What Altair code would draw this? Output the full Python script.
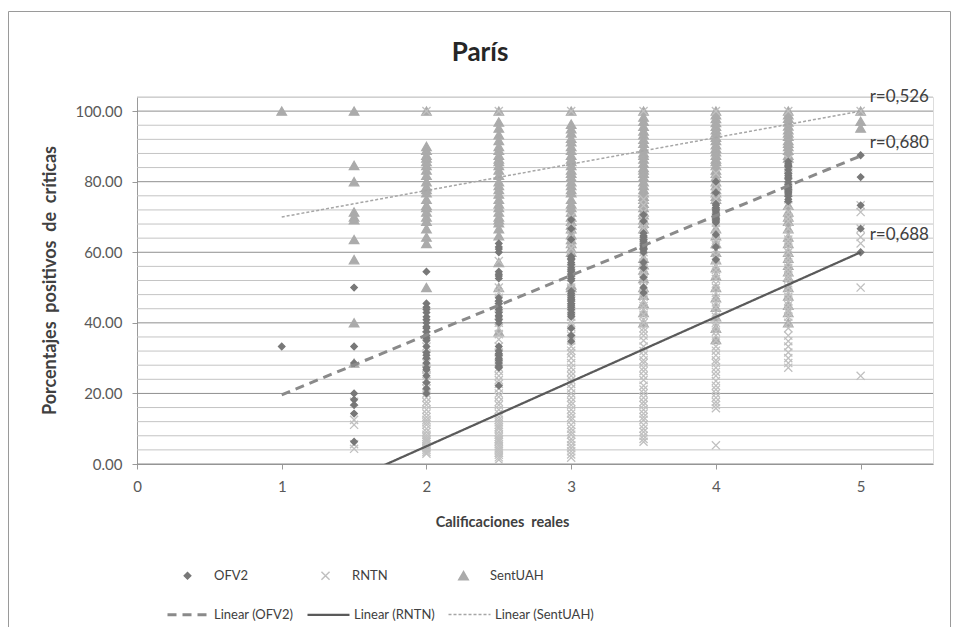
import altair as alt
import pandas as pd

FONT = "Lato"

# ---------------- data ----------------
series_names = ["OFV2", "RNTN", "SentUAH"]

ofv2_values = {
    1: [33.3],
    1.5: [50, 33.3, 28.6, 20, 18.2, 16.7, 14.3, 6.3],
    2: [54.5, 45.5, 44.4, 43.8, 42.9, 41.7, 40.9, 40, 38.9, 38.5, 37.5, 36.4, 35.7, 35,
        33.3, 31.6, 30.8, 30, 28.6, 27.3, 26.7, 25, 23.1, 21.4, 20],
    2.5: [62.5, 61.5, 60.9, 60, 54.5, 53.8, 53.3, 52.6, 47.1, 46.2, 45.5, 44.4, 43.8, 42.9,
          42.1, 41.7, 40.9, 40, 33.3, 32, 31.3, 30.8, 30, 29.4, 28.6, 27.8, 27.3, 22.2],
    3: [69.2, 66.7, 63.6, 58.8, 58.3, 57.9, 57.1, 56.5, 55.6, 55, 54.5, 53.8, 53.3, 52.6, 52,
        49, 48.4, 47.8, 47.1, 46.7, 46.2, 45.5, 45, 44.4, 43.8, 42.9, 42.3, 41.7, 38.5, 36.4, 34.8],
    3.5: [70.6, 68.8, 65.4, 64.7, 64.3, 63.6, 63.2, 62.5, 61.9, 61.5, 61.1, 60.7, 60,
          57.1, 55.6, 52.9, 50, 48.5],
    4: [80, 76.9, 73.7, 73.3, 72.7, 72.2, 71.9, 71.4, 70.8, 70.6, 70, 69.6, 69.2, 68.8, 68.4,
        65, 61.5, 57.9],
    4.5: [85.7, 85, 84.6, 84.2, 83.3, 82.4, 81.8, 81.3, 80.8, 80, 79.2, 78.6, 78.3, 77.8, 77.3,
          76.9, 76.5, 75.9, 75, 74.4],
    5: [87.5, 81.3, 73.3, 66.7, 60],
}

rntn_values = {
    1.5: [17.6, 12.5, 11.1, 5.6, 4.3],
    2: [100, 36.4, 33.3, 30.8, 28.6, 27.3, 26.7, 25, 23.5, 22.2, 21.4, 20, 18.8, 17.6, 16.7,
        15.4, 14.3, 13.3, 12.5, 11.8, 11.1, 10, 9.1, 8.3, 7.7, 7.1, 6.7, 6.3, 5.6, 5, 4.5, 4,
        3.4, 2.9],
    2.5: [100, 57.5, 50, 48.6, 47.1, 44.4, 42.1, 40, 38.5, 36.8, 35.3, 33.3, 31.6, 30, 28.6,
          27.3, 26.3, 25, 23.8, 22.7, 21.4, 20, 19, 17.6, 16.7, 15.4, 14.3, 13.3, 12.5, 11.8,
          11.1, 10.5, 10, 9.1, 8.3, 7.7, 7.1, 6.7, 6.3, 5.6, 5, 4.3, 3.8, 3.2, 2.6, 1.9, 1.2],
    3: [100, 70, 68.2, 66.7, 64.3, 62.5, 61.1, 59.1, 57.1, 55.6, 54.2, 52.9, 51.5, 50, 48.4,
        47.1, 45.5, 44.4, 42.9, 41.7, 40, 38.9, 37.5, 36.4, 35, 33.3, 32.1, 31.3, 30, 28.6,
        27.3, 26.1, 25, 23.8, 22.7, 21.4, 20, 18.8, 17.6, 16.7, 15.4, 14.3, 13.3, 12.5, 11.1,
        10, 9.1, 8.3, 7.1, 6.3, 5.3, 4.5, 3.6, 2.7, 1.8],
    3.5: [100, 75, 73.3, 71.4, 69.2, 67.9, 66.7, 64.7, 63.2, 61.9, 60, 58.8, 57.1, 55.6, 54.5,
          53.3, 52, 50, 48.6, 47.4, 46.2, 44.8, 43.8, 42.3, 40.9, 40, 38.5, 37.5, 36.4, 35,
          33.3, 32, 30.8, 29.4, 28.6, 27.3, 26.3, 25, 23.8, 22.2, 21.1, 20, 18.8, 17.6, 16.7,
          15.4, 14.3, 13.3, 12.5, 11.1, 10, 9.1, 8, 7.1, 6.3],
    4: [100, 82.4, 80, 78.6, 76.9, 75, 73.3, 71.4, 70, 68.4, 66.7, 65, 63.6, 62.1, 60.7, 59.1,
        57.9, 56.3, 55, 53.8, 52.4, 51.1, 50, 48.5, 47.1, 45.8, 44.4, 42.9, 41.7, 40, 38.9,
        37.5, 36.4, 35, 33.3, 32.1, 30.8, 29.4, 28.6, 27.3, 26.1, 25, 23.5, 22.2, 21.1, 20,
        18.8, 17.6, 16.7, 15.8, 5.3],
    4.5: [100, 86.4, 84.6, 83.3, 81.8, 80, 78.6, 76.9, 75, 73.3, 71.4, 70, 68.8, 66.7, 65,
          63.6, 62.5, 61.1, 60, 58.3, 57.1, 55.6, 54.5, 53.3, 52.4, 51.2, 50, 48.6, 47.4, 46.2,
          45, 43.8, 42.9, 41.7, 40, 38.5, 36.4, 34.8, 33.3, 31.6, 30, 28.6, 27.3],
    5: [100, 73.3, 71.4, 66.7, 64.3, 62.5, 50, 25],
}

sentuah_values = {
    1: [100],
    1.5: [100, 84.6, 80, 71.4, 70, 69.2, 63.6, 57.9, 40, 28.6],
    2: [100, 90, 88.9, 87.5, 86.7, 85.7, 84.6, 83.3, 81.8, 80, 78.6, 77.8, 76.9, 75, 73.3,
        72.7, 71.4, 70, 68.8, 66.7, 64.3, 62.5, 50],
    2.5: [100, 96.9, 95.2, 93.3, 91.7, 90, 88.9, 87.5, 86.4, 85.7, 84.6, 83.3, 81.8, 80, 78.9,
          77.8, 76.5, 75, 73.7, 72.7, 71.4, 70, 69.2, 68.4, 66.7, 64.7, 57.1, 50, 37.5],
    3: [100, 96.3, 95, 93.8, 92.3, 91.3, 90, 88.9, 87.5, 86.4, 85.7, 84.6, 83.3, 82.4, 81.3,
        80, 78.9, 77.8, 76.9, 75, 73.7, 72.7, 71.4, 70, 68.8, 67.7, 66.7, 65, 63.6, 62.5,
        61.1, 60, 50.7, 50],
    3.5: [100, 98.3, 97.1, 95.7, 94.4, 93.3, 92, 90.9, 89.5, 88.2, 87.5, 86.4, 85.2, 84, 83.3,
          82.4, 81.3, 80, 78.9, 77.8, 76.9, 75.9, 75, 73.9, 72.7, 71.4, 70.6, 69.2, 68.2, 66.7,
          58.3, 56.5, 55, 52.6, 50, 47.8, 45.5, 42.9, 40],
    4: [100, 99, 97.9, 96.8, 95.7, 94.7, 93.8, 92.6, 91.7, 90.5, 89.5, 88.5, 87.5, 86.4, 85.7,
        84.6, 83.3, 82.4, 81.3, 80, 78.9, 77.8, 76.9, 75.9, 75, 66.7, 64.7, 62.5, 60, 57.9,
        55.6, 53.3, 50, 47.1, 44.4, 41.7, 38.5, 35.3],
    4.5: [100, 99, 98, 96.9, 95.8, 94.7, 93.8, 92.9, 91.7, 90.9, 90, 88.9, 87.5, 86.7, 73.3,
          71.4, 70, 68.8, 66.7, 64.3, 62.5, 60, 58.3, 56.3, 54.5, 52.9, 50, 47.6, 45, 42.9, 40],
    5: [100, 97.1, 95.2],
}

trend_names = ["Linear (OFV2)", "Linear (RNTN)", "Linear (SentUAH)"]
trend_x = [1, 5]
trend_ofv2 = [19.6, 87.3]
trend_rntn = [-13.3, 60.0]
trend_sentuah = [70.0, 100.0]

r_labels = ["r=0,526", "r=0,680", "r=0,688"]
r_label_x = [5, 5, 5]
r_label_y = [104, 91, 65]

x_ticks = [0, 1, 2, 3, 4, 5]
y_ticks = [0, 20, 40, 60, 80, 100]
major_grid = [0, 20, 40, 60, 80, 100]
minor_grid = [4, 8, 12, 16, 24, 28, 32, 36, 44, 48, 52, 56, 64, 68, 72, 76, 84, 88, 92, 96, 104]

x_title = "Calificaciones\u00a0 reales"
y_title = "Porcentajes\u00a0 positivos\u00a0 de\u00a0 críticas"

# ---------------- tables ----------------
rows = []
for name, table in [("SentUAH", sentuah_values), ("RNTN", rntn_values), ("OFV2", ofv2_values)]:
    for xv, ys in table.items():
        for yv in ys:
            rows.append({"x": xv, "y": yv, "series": name})
points_df = pd.DataFrame(rows)

trend_rows = []
for name, ys in zip(trend_names, [trend_ofv2, trend_rntn, trend_sentuah]):
    for xv, yv in zip(trend_x, ys):
        trend_rows.append({"x": xv, "y": yv, "trend": name})
trend_df = pd.DataFrame(trend_rows)

labels_df = pd.DataFrame({"x": r_label_x, "y": r_label_y, "label": r_labels})
major_df = pd.DataFrame({"y": major_grid})
minor_df = pd.DataFrame({"y": minor_grid})

W, H = 796, 367
x_scale = alt.Scale(domain=[0, 5.5], nice=False, zero=False)
y_scale = alt.Scale(domain=[0, 104], nice=False)

x_axis = alt.Axis(values=x_ticks, format="d", grid=False, domainColor="#9a9a9a",
                  tickColor="#9a9a9a", tickSize=5, labelPadding=10, labelFontSize=15,
                  labelColor="#595959", labelFont=FONT, labelFlush=False,
                  title=x_title, titleFont=FONT, titleFontSize=14.5,
                  titleFontWeight="bold", titleColor="#404040", titleX=365, titleY=58,
                  titleAlign="center", titleBaseline="middle")
y_axis = alt.Axis(values=y_ticks, format=".2f", grid=False, domainColor="#9a9a9a",
                  tickColor="#9a9a9a", tickSize=5, labelPadding=10, labelFontSize=15,
                  labelColor="#595959", labelFont=FONT, labelFlush=False,
                  title=y_title, titleFont=FONT,
                  titleFontSize=18, titleFontWeight="bold", titleColor="#404040",
                  titleX=-87, titleY=183, titleAngle=270, titleAlign="center",
                  titleBaseline="middle")

border = alt.Chart(pd.DataFrame({"k": [0]})).mark_rect(
    fillOpacity=0, stroke="#9a9a9a", strokeWidth=1
).encode(x=alt.value(-128.5), x2=alt.value(813.5), y=alt.value(-85.5), y2=alt.value(700))

minor = alt.Chart(minor_df).mark_rule(color="#c4c4c4", strokeWidth=1).encode(
    y=alt.Y("y:Q", scale=y_scale, axis=y_axis), x=alt.value(0), x2=alt.value(W))
major = alt.Chart(major_df).mark_rule(color="#8f8f8f", strokeWidth=1).encode(
    y=alt.Y("y:Q", scale=y_scale), x=alt.value(0), x2=alt.value(W))

pt_legend = alt.Legend(title=None, orient="none", legendX=44, legendY=472,
                       direction="horizontal", columns=3, gridAlign="all",
                       columnPadding=49, labelOffset=20, labelFont=FONT,
                       labelFontSize=13, labelColor="#404040")
cross_path = "M-1,-1L1,1M-1,1L1,-1"
points = alt.Chart(points_df).mark_point(filled=False, strokeWidth=1.3, opacity=1).encode(
    x=alt.X("x:Q", scale=x_scale, axis=x_axis),
    y=alt.Y("y:Q", scale=y_scale),
    stroke=alt.Stroke("series:N", scale=alt.Scale(domain=series_names,
                      range=["#787878", "#c0c0c0", "#ababab"]), legend=pt_legend),
    fill=alt.Fill("series:N", scale=alt.Scale(domain=series_names,
                  range=["#787878", "transparent", "#ababab"]), legend=pt_legend),
    shape=alt.Shape("series:N", scale=alt.Scale(domain=series_names,
                    range=["diamond", cross_path, "triangle-up"]), legend=pt_legend),
    size=alt.Size("series:N", scale=alt.Scale(domain=series_names, range=[42, 90, 66]),
                  legend=pt_legend),
)

ln_legend = alt.Legend(title=None, orient="none", legendX=29, legendY=495,
                       direction="horizontal", columns=3, gridAlign="each",
                       columnPadding=9, labelOffset=3, symbolSize=1764,
                       symbolType="stroke", labelFont=FONT, labelFontSize=13,
                       labelColor="#404040")
lines = alt.Chart(trend_df).mark_line(clip=True).encode(
    x=alt.X("x:Q", scale=x_scale),
    y=alt.Y("y:Q", scale=y_scale),
    detail="trend:N",
    stroke=alt.Stroke("trend:N", scale=alt.Scale(domain=trend_names,
                      range=["#8a8a8a", "#5a5a5a", "#a6a6a6"]), legend=ln_legend),
    strokeDash=alt.StrokeDash("trend:N", scale=alt.Scale(domain=trend_names,
                              range=[[9, 6], [1, 0], [3, 2]]), legend=ln_legend),
    strokeWidth=alt.StrokeWidth("trend:N", scale=alt.Scale(domain=trend_names,
                                range=[3, 1.5, 1.2]), legend=ln_legend),
)

texts = alt.Chart(labels_df).mark_text(align="left", baseline="middle", dx=9,
                                       fontSize=17, font=FONT, color="#404040").encode(
    x=alt.X("x:Q", scale=x_scale), y=alt.Y("y:Q", scale=y_scale), text="label:N")

chart = alt.layer(border, minor, major, points, lines, texts).resolve_scale(
    stroke="independent", fill="independent", shape="independent", size="independent",
    strokeDash="independent", strokeWidth="independent"
).properties(
    width=W, height=H,
    title=alt.Title("París", font=FONT, fontSize=26, fontWeight="bold", color="#262626",
                    anchor="middle", frame="group", dx=-55, offset=-55),
    autosize=alt.AutoSizeParams(type="none"),
    padding={"left": 129, "top": 89, "right": 18, "bottom": 163},
).configure_view(stroke=None).configure(background="white")

chart.save("out.html", embed_options={"renderer": "svg", "actions": False})
